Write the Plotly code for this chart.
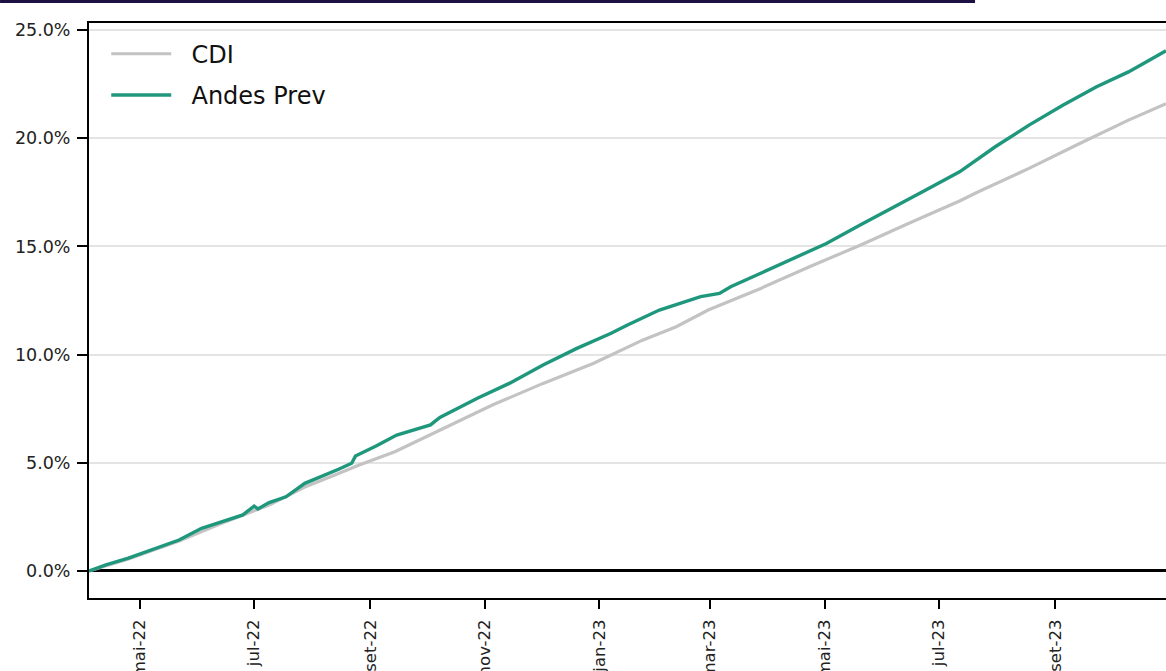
import plotly.graph_objects as go

# ---- data (percent, cumulative) ----
andes_dates = ["2022-04-04", "2022-04-13", "2022-04-25", "2022-05-08", "2022-05-22",
               "2022-06-03", "2022-06-16", "2022-06-25", "2022-07-01", "2022-07-03",
               "2022-07-09", "2022-07-18", "2022-07-28", "2022-08-08", "2022-08-15",
               "2022-08-22", "2022-08-24", "2022-09-04", "2022-09-15", "2022-10-03",
               "2022-10-08", "2022-10-28", "2022-11-14", "2022-12-02", "2022-12-20",
               "2023-01-07", "2023-01-16", "2023-02-02", "2023-02-13", "2023-02-24",
               "2023-03-06", "2023-03-12", "2023-03-28", "2023-04-14", "2023-05-02",
               "2023-05-20", "2023-06-06", "2023-06-24", "2023-07-12", "2023-07-31",
               "2023-08-18", "2023-09-05", "2023-09-23", "2023-10-10", "2023-10-30"]
andes_vals = [0.00, 0.28, 0.59, 1.00, 1.43,
              1.97, 2.36, 2.59, 3.00, 2.87,
              3.16, 3.43, 4.05, 4.44, 4.70,
              4.98, 5.31, 5.78, 6.28, 6.75,
              7.10, 7.98, 8.67, 9.52, 10.29,
              10.98, 11.37, 12.06, 12.37, 12.68,
              12.83, 13.14, 13.76, 14.45, 15.14,
              15.99, 16.76, 17.61, 18.45, 19.61,
              20.61, 21.53, 22.38, 23.07, 24.05]

cdi_dates = ["2022-04-04", "2022-04-25", "2022-05-22", "2022-06-16", "2022-07-09",
             "2022-07-28", "2022-08-15", "2022-08-26", "2022-09-14", "2022-10-10",
             "2022-11-05", "2022-12-02", "2022-12-29", "2023-01-24", "2023-02-11",
             "2023-02-28", "2023-03-28", "2023-04-23", "2023-05-20", "2023-06-15",
             "2023-07-12", "2023-07-22", "2023-08-18", "2023-09-14", "2023-10-10",
             "2023-10-30"]
cdi_vals = [0.00, 0.55, 1.38, 2.28, 3.05,
            3.88, 4.50, 4.90, 5.51, 6.59,
            7.67, 8.67, 9.60, 10.67, 11.29,
            12.06, 13.06, 14.06, 15.06, 16.07,
            17.10, 17.53, 18.61, 19.76, 20.84,
            21.60]

x_tick_vals = ["2022-05-01", "2022-07-01", "2022-09-01", "2022-11-01", "2023-01-01",
               "2023-03-01", "2023-05-01", "2023-07-01", "2023-09-01"]
x_tick_text = ["mai-22", "jul-22", "set-22", "nov-22", "jan-23",
               "mar-23", "mai-23", "jul-23", "set-23"]
y_tick_vals = [0, 5, 10, 15, 20, 25]
y_tick_text = ["0.0%", "5.0%", "10.0%", "15.0%", "20.0%", "25.0%"]

FONT = "DejaVu Sans"
TEAL = "#1f977d"
GREY = "#c3c3c3"

fig = go.Figure()
fig.add_trace(go.Scatter(x=cdi_dates, y=cdi_vals, mode="lines", name="  CDI",
                         legendgroup="a",
                         line=dict(color=GREY, width=3.2)))
fig.add_trace(go.Scatter(x=andes_dates, y=andes_vals, mode="lines", name="  Andes Prev",
                         legendgroup="b",
                         line=dict(color=TEAL, width=3.4)))

# navy title bar (cut at the top of the image)
fig.add_shape(type="rect", xref="paper", yref="paper",
              x0=-0.0826, x1=0.8227, y0=1.0348, y1=1.06,
              fillcolor="#1c1142", line=dict(width=0), layer="above")

fig.update_layout(
    width=1166, height=671,
    margin=dict(l=89, r=0, t=23, b=73),
    paper_bgcolor="white", plot_bgcolor="white",
    font=dict(family=FONT, size=16, color="#222222"),
    showlegend=True,
    legend=dict(x=0.016, y=0.985, xanchor="left", yanchor="top",
                bgcolor="rgba(0,0,0,0)", font=dict(size=24, color="#111111"),
                itemwidth=60, tracegroupgap=7),
    xaxis=dict(range=["2022-04-04", "2023-10-30"], tickvals=x_tick_vals, ticktext=x_tick_text,
               tickangle=-90, ticks="outside", ticklen=9, tickwidth=2, tickcolor="black",
               showline=True, linecolor="black", linewidth=2, mirror=True,
               showgrid=False, automargin=False, ticklabelstandoff=4,
               tickfont=dict(size=16.5, color="#222222")),
    yaxis=dict(range=[-1.25, 25.33], tickvals=y_tick_vals, ticktext=y_tick_text,
               ticks="outside", ticklen=10, tickwidth=2, tickcolor="black",
               showline=True, linecolor="black", linewidth=2, mirror=False,
               showgrid=True, gridcolor="#e4e4e4", gridwidth=1.5,
               zeroline=True, zerolinecolor="black", zerolinewidth=3,
               automargin=False, ticklabelstandoff=3,
               tickfont=dict(size=17.5, color="#222222")),
)

fig.write_html("out.html", config={"displayModeBar": False},
               post_script="document.body.style.margin='0';document.body.style.overflow='hidden';")
